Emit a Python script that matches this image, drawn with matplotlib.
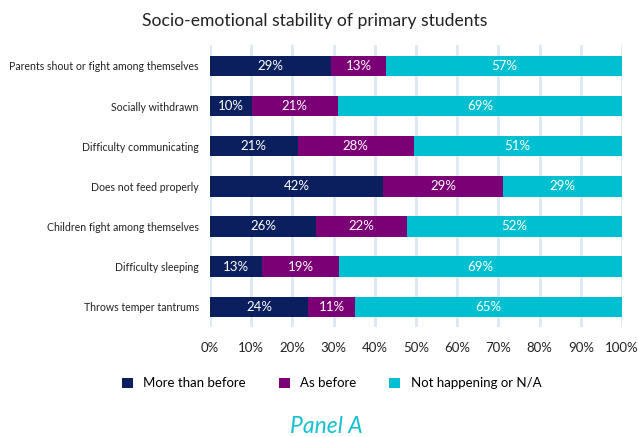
import matplotlib.pyplot as plt
import numpy as np

plt.rcParams['font.family'] = ['Lato', 'DejaVu Sans']

categories = [
    'Parents shout or fight among themselves',
    'Socially withdrawn',
    'Difficulty communicating',
    'Does not feed properly',
    'Children fight among themselves',
    'Difficulty sleeping',
    'Throws temper tantrums',
]
more_than_before = [29.4, 10.2, 21.3, 42.0, 25.8, 12.6, 23.8]
as_before = [13.4, 20.8, 28.1, 29.2, 22.1, 18.8, 11.4]
not_happening = [57.2, 69.0, 50.6, 28.8, 52.1, 68.6, 64.8]

series = [
    ('More than before', more_than_before, '#0b1f5e'),
    ('As before', as_before, '#7b0075'),
    ('Not happening or N/A', not_happening, '#00bfd1'),
]

fig = plt.figure(figsize=(6.38, 4.37), dpi=100)
ax = fig.add_axes([0.329, 0.252, 0.646, 0.645])

y = np.arange(len(categories))
left = np.zeros(len(categories))
for name, vals, color in series:
    vals = np.array(vals)
    ax.barh(y, vals, left=left, height=0.51, color=color, label=name, zorder=3)
    for yi, l, v in zip(y, left, vals):
        ax.text(l + v / 2, yi, f'{v:.0f}%', ha='center', va='center',
                color='white', fontsize=9.5, zorder=4)
    left += vals

ax.set_xlim(0, 100)
ax.set_ylim(len(categories) - 0.5, -0.52)
ax.set_yticks(y)
ax.set_yticklabels(categories, fontsize=7.6, color='#222222')
ax.set_xticks(np.arange(0, 101, 10))
ax.set_xticklabels([f'{t}%' for t in range(0, 101, 10)], fontsize=9.5, color='#222222')
ax.tick_params(axis='both', length=0)
ax.tick_params(axis='x', pad=11)
ax.tick_params(axis='y', pad=8)
ax.grid(axis='x', color='#dde8f5', linewidth=2, zorder=0)
for s in ax.spines.values():
    s.set_visible(False)

fig.text(0.494, 0.952, 'Socio-emotional stability of primary students',
         ha='center', va='center', fontsize=12.6, color='#222222')

fig.legend(loc='center', bbox_to_anchor=(0.52, 0.123), ncol=3, frameon=False,
           fontsize=9.5, handlelength=0.8, handleheight=0.8, columnspacing=2.5,
           handletextpad=0.8)

fig.text(0.511, 0.025, 'Panel A', ha='center', va='center', fontsize=16.5,
         style='italic', color='#16bfd0')

fig.savefig('out.png', dpi=100)
